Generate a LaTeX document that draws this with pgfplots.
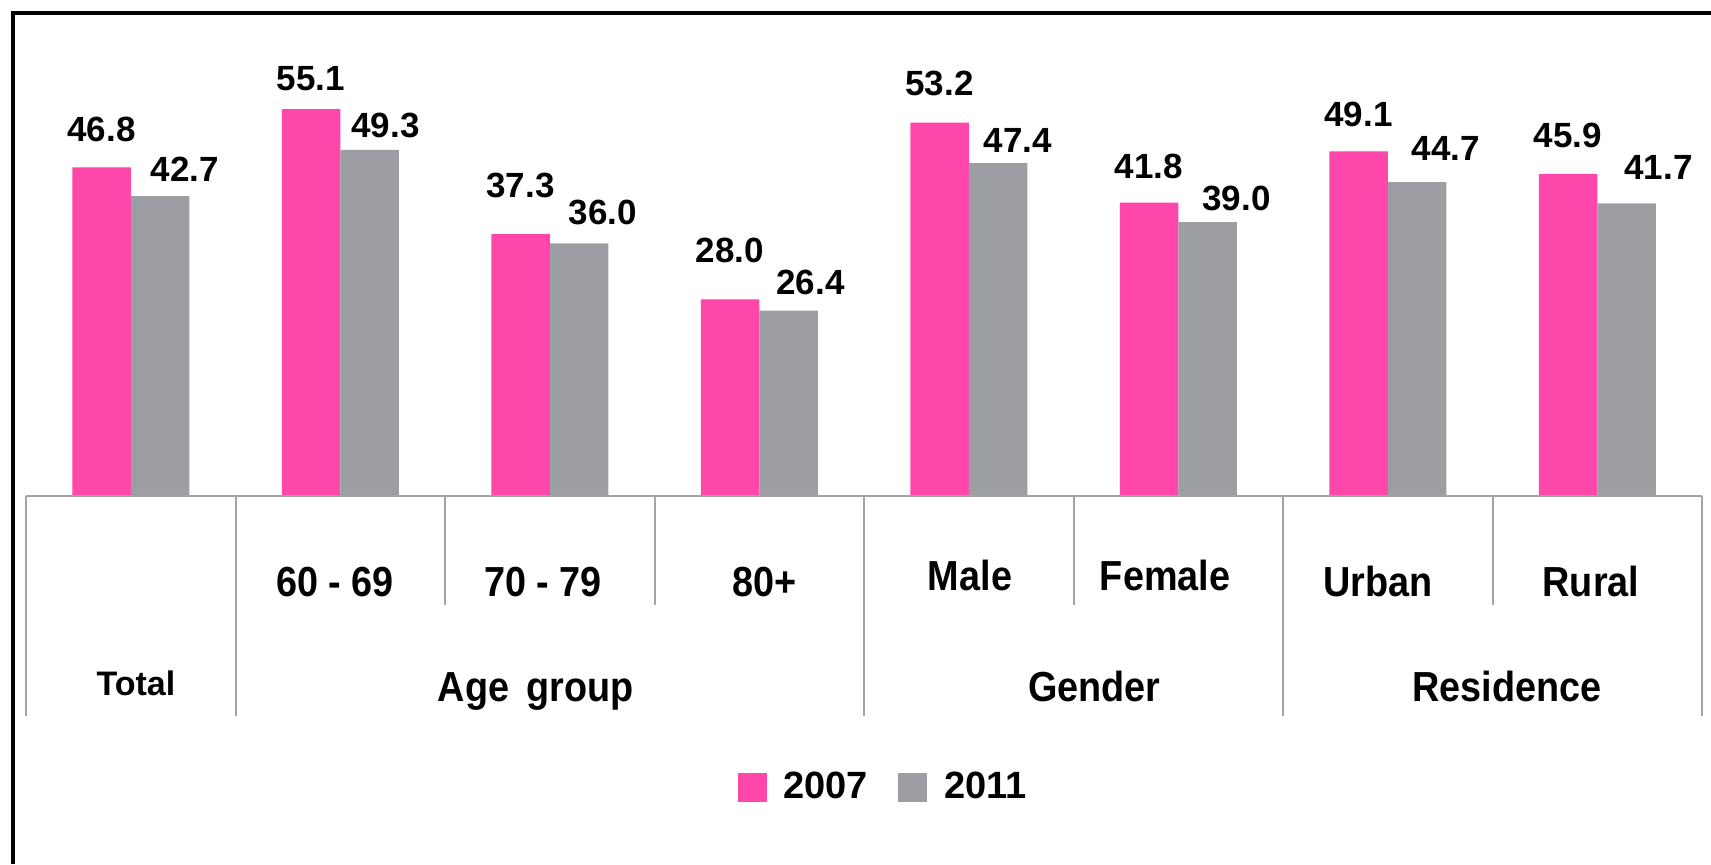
\documentclass[border=0pt]{standalone}
\usepackage{fontspec}
\setmainfont{Liberation Sans}
\newfontfamily\catfont[FakeStretch=0.9]{Liberation Sans}
\usepackage{pgfplots}
\usepackage{pgfplotstable}
\pgfplotsset{compat=1.18}

\definecolor{bar07}{HTML}{FF46AA}
\definecolor{bar11}{HTML}{9D9EA3}
\definecolor{rulegray}{HTML}{A3A4A8}

% pos: category slot; v07/v11: rates; dy/dx: label offsets (pt)
\pgfplotstableread{
pos v07 dy07 v11 dy11 dx11
0 46.8 12.5 42.7 7.0 12.5
1 55.1 9.0 49.3 6.0 8.0
2 37.3 18.0 36.0 9.0 12.0
3 28.0 18.0 26.4 7.5 11.0
4 53.2 13.0 47.4 5.0 10.0
5 41.8 11.5 39.0 5.5 14.5
6 49.1 12.0 44.7 10.5 14.5
7 45.9 13.0 41.7 11.5 16.0
}\ratetable

\newcommand{\catlab}{\catfont\bfseries\fontsize{21}{24}\selectfont}

\begin{document}
\begin{tikzpicture}
\path[use as bounding box] (-13pt,-184pt) rectangle (842.5pt,248pt);
\begin{axis}[
  at={(0pt,0pt)}, anchor=south west,
  scale only axis, width=838pt, height=241.5pt,
  xmin=-0.5, xmax=7.5, ymin=0, ymax=68.8,
  hide axis, clip=false,
  ybar=0pt, bar width=29.25pt,
  /pgf/number format/assume math mode=true,
  nodes near coords={\pgfmathprintnumber[fixed,fixed zerofill,precision=1]{\pgfplotspointmeta}},
  legend columns=2,
  legend style={at={(0.512,-0.6025)}, anchor=center, draw=none, fill=none,
    font=\fontsize{19}{22}\selectfont\bfseries,
    /tikz/every even column/.append style={column sep=13pt}},
]
\addplot[fill=bar07, draw=none,
  visualization depends on={\thisrow{dy07} \as \labdy},
  every node near coord/.append style={anchor=south, inner sep=0pt,
    yshift=\labdy pt, font=\fontsize{17.5}{20}\selectfont\bfseries},
  legend image code/.code={\fill[bar07] (0pt,-7.25pt) rectangle (14.5pt,7.25pt);
    \path (21pt,0pt);}]
  table[x=pos, y=v07] {\ratetable};
\addlegendentry{2007}
\addplot[fill=bar11, draw=none,
  visualization depends on={\thisrow{dy11} \as \labdy},
  visualization depends on={\thisrow{dx11} \as \labdx},
  every node near coord/.append style={anchor=south, inner sep=0pt,
    xshift=\labdx pt, yshift=\labdy pt, font=\fontsize{17.5}{20}\selectfont\bfseries},
  legend image code/.code={\fill[bar11] (0pt,-7.25pt) rectangle (14.5pt,7.25pt);
    \path (21pt,0pt);}]
  table[x=pos, y=v11] {\ratetable};
\addlegendentry{2011}

% category table below the bars
\draw[rulegray, line width=1pt] (axis cs:-0.5,0) -- (axis cs:7.5,0);
\draw[rulegray, line width=1pt] (axis cs:-0.5,0) -- ([yshift=-110pt]axis cs:-0.5,0);
\draw[rulegray, line width=1pt] (axis cs:0.5,0) -- ([yshift=-110pt]axis cs:0.5,0);
\draw[rulegray, line width=1pt] (axis cs:3.5,0) -- ([yshift=-110pt]axis cs:3.5,0);
\draw[rulegray, line width=1pt] (axis cs:5.5,0) -- ([yshift=-110pt]axis cs:5.5,0);
\draw[rulegray, line width=1pt] (axis cs:7.5,0) -- ([yshift=-110pt]axis cs:7.5,0);
\draw[rulegray, line width=1pt] (axis cs:1.5,0) -- ([yshift=-54.5pt]axis cs:1.5,0);
\draw[rulegray, line width=1pt] (axis cs:2.5,0) -- ([yshift=-54.5pt]axis cs:2.5,0);
\draw[rulegray, line width=1pt] (axis cs:4.5,0) -- ([yshift=-54.5pt]axis cs:4.5,0);
\draw[rulegray, line width=1pt] (axis cs:6.5,0) -- ([yshift=-54.5pt]axis cs:6.5,0);

\node[anchor=base, font=\catlab] at ([yshift=-50pt]axis cs:0.975,0) {60 - 69};
\node[anchor=base, font=\catlab] at ([yshift=-50pt]axis cs:1.968,0) {70 - 79};
\node[anchor=base, font=\catlab] at ([yshift=-50pt]axis cs:3.027,0) {80+};
\node[anchor=base, font=\catlab] at ([yshift=-47pt]axis cs:4.006,0) {Male};
\node[anchor=base, font=\catlab] at ([yshift=-47pt]axis cs:4.937,0) {Female};
\node[anchor=base, font=\catlab] at ([yshift=-50pt]axis cs:5.953,0) {Urban};
\node[anchor=base, font=\catlab] at ([yshift=-50pt]axis cs:6.970,0) {Rural};
\node[anchor=base, font=\bfseries\fontsize{17}{20}\selectfont] at ([yshift=-99.5pt]axis cs:0.025,0) {Total};
\node[anchor=base, font=\catlab] at ([yshift=-102.5pt]axis cs:1.934,0) {Age\, group};
\node[anchor=base, font=\catlab] at ([yshift=-102.5pt]axis cs:4.600,0) {Gender};
\node[anchor=base, font=\catlab] at ([yshift=-102.5pt]axis cs:6.569,0) {Residence};
\end{axis}
% outer frame (left and top edges)
\draw[black, line width=2.2pt] (-6.5pt,-184pt) -- (-6.5pt,241.5pt) -- (842.5pt,241.5pt);
\end{tikzpicture}
\end{document}
